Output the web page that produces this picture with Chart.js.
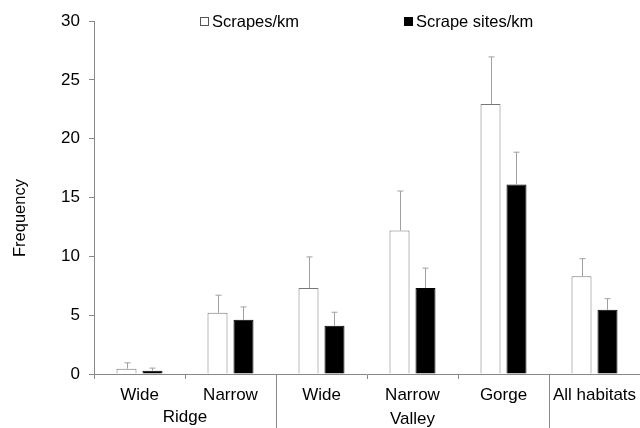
<!DOCTYPE html>
<html><head><meta charset="utf-8">
<script src="https://cdn.jsdelivr.net/npm/chart.js@4"></script>
<style>html,body{margin:0;padding:0;background:#fff}#wrap{width:640px;height:428px;position:relative}</style>
</head><body><div id="wrap"><canvas id="c"></canvas></div>
<script>
const categories = ['Wide', 'Narrow', 'Wide', 'Narrow', 'Gorge', 'All habitats'];
const groupLabels = ['Ridge', 'Valley'];
const groupStart = [0, 2];
const groupEnd = [1, 4];
const scrapes = [0.45, 5.2, 7.3, 12.2, 22.95, 8.3];
const scrapesErr = [0.5, 1.5, 2.65, 3.35, 4.0, 1.5];
const sites = [0.28, 4.6, 4.1, 7.3, 16.1, 5.45];
const sitesErr = [0.22, 1.1, 1.15, 1.7, 2.75, 0.95];
const yTicks = [0, 5, 10, 15, 20, 25, 30];
const seriesNames = ['Scrapes/km', 'Scrape sites/km'];
const yTitle = 'Frequency';

const FONT = 'Liberation Sans, Arial, sans-serif';
const errs = [scrapesErr, sitesErr];

const errorBars = {
  id: 'errorBars',
  afterDatasetsDraw(chart) {
    const ctx = chart.ctx, y = chart.scales.y;
    ctx.save();
    ctx.strokeStyle = '#a0a0a0';
    ctx.lineWidth = 1;
    chart.data.datasets.forEach((ds, di) => {
      const meta = chart.getDatasetMeta(di);
      meta.data.forEach((bar, i) => {
        const x = Math.round(bar.x) + 0.5;
        const top = y.getPixelForValue(ds.data[i] + errs[di][i]);
        ctx.beginPath();
        ctx.moveTo(x, bar.y);
        ctx.lineTo(x, top);
        ctx.moveTo(x - 3, top);
        ctx.lineTo(x + 3, top);
        ctx.stroke();
      });
    });
    ctx.restore();
  }
};

const decorations = {
  id: 'decorations',
  afterDraw(chart) {
    const ctx = chart.ctx, xs = chart.scales.x, area = chart.chartArea;
    ctx.save();
    ctx.strokeStyle = '#888';
    ctx.lineWidth = 1;
    groupEnd.forEach((e) => {
      const px = Math.round((xs.getPixelForValue(e) + xs.getPixelForValue(e + 1)) / 2) + 0.5;
      ctx.beginPath();
      ctx.moveTo(px, area.bottom);
      ctx.lineTo(px, chart.height);
      ctx.stroke();
    });
    ctx.fillStyle = '#000';
    ctx.font = '17px ' + FONT;
    ctx.textAlign = 'center';
    ctx.textBaseline = 'alphabetic';
    groupLabels.forEach((g, gi) => {
      const cx = (xs.getPixelForValue(groupStart[gi]) + xs.getPixelForValue(groupEnd[gi])) / 2;
      ctx.fillText(g, cx, gi === 0 ? 422 : 424);
    });
    ctx.save();
    ctx.translate(20, 218);
    ctx.rotate(-Math.PI / 2);
    ctx.font = '16.5px ' + FONT;
    ctx.textBaseline = 'middle';
    ctx.fillText(yTitle, 0, 0);
    ctx.restore();
    ctx.font = '16.5px ' + FONT;
    ctx.textAlign = 'left';
    ctx.textBaseline = 'middle';
    const legendItems = [{x: 200, fill: '#fff'}, {x: 404, fill: '#000'}];
    legendItems.forEach((it, i) => {
      ctx.fillStyle = it.fill;
      ctx.fillRect(it.x, 17, 9, 9);
      ctx.strokeStyle = i === 0 ? '#555' : '#000';
      ctx.strokeRect(it.x + 0.5, 17.5, 8, 8);
      ctx.fillStyle = '#000';
      ctx.fillText(seriesNames[i], it.x + 12, 22);
    });
    ctx.restore();
  }
};

new Chart(document.getElementById('c'), {
  type: 'bar',
  data: {
    labels: categories,
    datasets: [
      {label: seriesNames[0], data: scrapes, backgroundColor: '#fff', borderColor: '#777', borderWidth: 1},
      {label: seriesNames[1], data: sites, backgroundColor: '#000', borderColor: '#000', borderWidth: 1}
    ]
  },
  options: {
    responsive: true,
    maintainAspectRatio: false,
    animation: false,
    devicePixelRatio: 1,
    categoryPercentage: 0.571,
    barPercentage: 0.77,
    layout: {padding: {top: 21, left: 0, right: 0, bottom: 0}},
    plugins: {legend: {display: false}, tooltip: {enabled: false}},
    scales: {
      x: {
        grid: {drawOnChartArea: false, drawTicks: true, tickLength: 5, color: '#888', offset: true},
        border: {color: '#888', width: 1},
        ticks: {font: {family: FONT, size: 17}, color: '#000', padding: 6, maxRotation: 0, autoSkip: false},
        afterFit(s) { s.height = 54; s.paddingLeft = 0; s.paddingRight = 0; }
      },
      y: {
        min: 0, max: 30,
        afterBuildTicks(s) { s.ticks = yTicks.map(v => ({value: v})); },
        grid: {drawOnChartArea: false, drawTicks: true, tickLength: 5, color: '#888'},
        border: {color: '#888', width: 1},
        ticks: {font: {family: FONT, size: 17}, color: '#000', padding: 9},
        afterFit(s) { s.width = 94; }
      }
    }
  },
  plugins: [errorBars, decorations]
});
</script>
</body></html>
